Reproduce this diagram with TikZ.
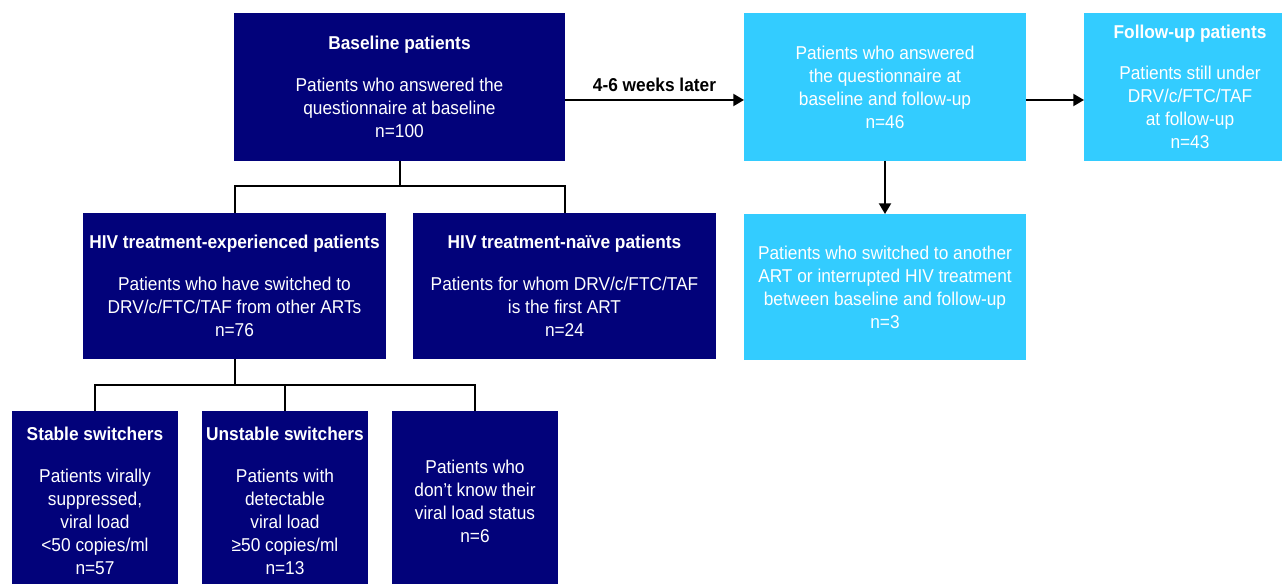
\documentclass[tikz,border=0pt]{standalone}
\usepackage{fontspec}
\setmainfont{Liberation Sans}[FakeStretch=0.93]
\usetikzlibrary{arrows.meta}
\definecolor{navy}{HTML}{02027A}
\definecolor{sky}{HTML}{33CCFF}
\newcommand{\hgap}{\\[14pt]}
\tikzset{
  box/.style={rectangle, inner sep=0pt, outer sep=0pt, align=center, text=white,
    font=\fontsize{13.95}{17.25}\selectfont},
  darkbox/.style={box, fill=navy},
  lightbox/.style={box, fill=sky},
  conn/.style={line width=1.5pt, black},
  arr/.style={conn, -{Triangle[length=8pt,width=9pt]}},
}
\begin{document}
\begin{tikzpicture}[x=0.75pt,y=-0.75pt]
\useasboundingbox (0,0) rectangle (1282,584);
\clip (0,0) rectangle (1282,584);

\node[darkbox, minimum width=248.25pt, minimum height=111pt] (base) at (399.5,87)
  {\textbf{Baseline patients}\hgap Patients who answered the\\ questionnaire at baseline\\ n=100};
\node[lightbox, minimum width=211.5pt, minimum height=111pt] (fu1) at (885,87)
  {Patients who answered\\ the questionnaire at\\ baseline and follow-up\\ n=46};
\node[lightbox, minimum width=159pt, minimum height=111pt] (fu2) at (1190,87)
  {\textbf{Follow-up patients}\hgap Patients still under\\ DRV/c/FTC/TAF\\ at follow-up\\ n=43};

\node[darkbox, minimum width=227.25pt, minimum height=109.5pt] (exp) at (234.5,286)
  {\textbf{HIV treatment-experienced patients}\hgap Patients who have switched to\\ DRV/c/FTC/TAF from other ARTs\\ n=76};
\node[darkbox, minimum width=227.25pt, minimum height=109.5pt] (naive) at (564.5,286)
  {\textbf{HIV treatment-naïve patients}\hgap Patients for whom DRV/c/FTC/TAF\\ is the first ART\\ n=24};
\node[lightbox, minimum width=211.5pt, minimum height=109.5pt] (sw) at (885,287)
  {Patients who switched to another\\ ART or interrupted HIV treatment\\ between baseline and follow-up\\ n=3};

\node[darkbox, minimum width=124.5pt, minimum height=135pt] (stable) at (95,501)
  {\textbf{Stable switchers}\hgap Patients virally\\ suppressed,\\ viral load\\ <50 copies/ml\\ n=57};
\node[darkbox, minimum width=124.5pt, minimum height=135pt] (unstable) at (285,501)
  {\textbf{Unstable switchers}\hgap Patients with\\ detectable\\ viral load\\ ≥50 copies/ml\\ n=13};
\node[darkbox, minimum width=124.5pt, minimum height=135pt] (dk) at (475,501)
  {Patients who\\ don’t know their\\ viral load status\\ n=6};

% tree connectors
\coordinate (j1) at (399.5,186);
\coordinate (j2) at (234.5,385);
\draw[conn] (base.south) -- (j1);
\draw[conn] (exp.north) |- (j1) -| (naive.north);
\draw[conn] (exp.south) -- (j2);
\draw[conn] (stable.north) |- (j2) -| (dk.north);
\draw[conn] (unstable.north) -- (unstable.north |- j2);

% arrows
\coordinate (ay) at (0,100);
\draw[arr] (base.east |- ay) -- node[above=2pt, font=\fontsize{13.95}{17.25}\selectfont\bfseries] (lbl) {4-6 weeks later} (fu1.west |- ay);
\draw[arr] (fu1.east |- ay) -- (fu2.west |- ay);
\draw[arr] (fu1.south) -- (sw.north);
\end{tikzpicture}
\end{document}
